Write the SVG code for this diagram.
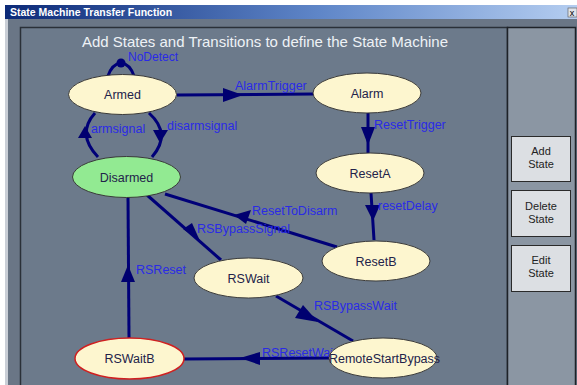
<svg xmlns="http://www.w3.org/2000/svg" width="577" height="385" viewBox="0 0 577 385">
<defs>
<linearGradient id="tb" x1="0" y1="0" x2="1" y2="0">
<stop offset="0" stop-color="#0c2a78"/>
<stop offset="0.55" stop-color="#5f86c8"/>
<stop offset="1" stop-color="#b4cdf0"/>
</linearGradient>
</defs>
<style>
.st{fill:#fdf6cf;stroke:#3a3a3a;stroke-width:1}
.lbl{font-family:"Liberation Sans",Arial,sans-serif;font-size:12.5px;fill:#22224a;text-anchor:middle}
.el{font-family:"Liberation Sans",Arial,sans-serif;font-size:12.5px;fill:#2a2ae6}
.ed{fill:none;stroke:#000078;stroke-width:3}
.ah{fill:#000070}
.btn{fill:#dcdfe3;stroke:#2a2a2a;stroke-width:1}
.bt{font-family:"Liberation Sans",Arial,sans-serif;font-size:11px;fill:#222;text-anchor:middle}
</style>
<rect x="0" y="0" width="577" height="385" fill="#ffffff"/>
<rect x="5" y="5" width="572" height="380" fill="#6a7686"/>
<rect x="5" y="19" width="3" height="366" fill="#c9ced6"/>
<rect x="5" y="5" width="572" height="14" fill="url(#tb)"/>
<text x="10" y="16" font-family="Liberation Sans,Arial,sans-serif" font-size="10.5" font-weight="bold" fill="#ffffff">State Machine Transfer Function</text>
<rect x="568" y="8" width="9" height="9" fill="#dfe3ea" stroke="#555" stroke-width="0.6"/>
<text x="572" y="15.5" font-family="Liberation Sans,Arial,sans-serif" font-size="9" fill="#000" text-anchor="middle">x</text>
<rect x="20.5" y="27.5" width="487" height="360" fill="#6c7a8b" stroke="#2a3038" stroke-width="1.5"/>
<rect x="507.5" y="27.5" width="68" height="360" fill="#8b96a3" stroke="#1e2228" stroke-width="1.5"/>
<text x="265" y="47" font-family="Liberation Sans,Arial,sans-serif" font-size="15" fill="#eef2f6" text-anchor="middle">Add States and Transitions to define the State Machine</text>
<g id="btn-add"><rect class="btn" x="511.5" y="136.5" width="59" height="45"/><text class="bt" x="541" y="155">Add</text><text class="bt" x="541" y="168">State</text></g>
<g id="btn-delete"><rect class="btn" x="511.5" y="190.5" width="59" height="46"/><text class="bt" x="541" y="210">Delete</text><text class="bt" x="541" y="223">State</text></g>
<g id="btn-edit"><rect class="btn" x="511.5" y="245.5" width="59" height="46"/><text class="bt" x="541" y="264">Edit</text><text class="bt" x="541" y="277">State</text></g>
<g id="connectors">
<path class="ed" d="M108,76 Q112,64 121,63 Q130,64 134,76" stroke="#1414d8" stroke-width="2.5"/>
<circle cx="121" cy="63" r="4.5" fill="#000078"/>
<path class="ed" d="M177,95 L313,94"/>
<path class="ah" d="M223,88 L243,95 L223,102 Z"/>
<path class="ed" d="M368,113 L368,153"/>
<path class="ah" d="M361,127 L368,145 L375,127 Z"/>
<path class="ed" d="M371,193 L374,240"/>
<path class="ah" d="M365,205 L373,221 L380,205 Z"/>
<path class="ed" d="M337,247 L165,194"/>
<path class="ah" d="M251,210 L234,215 L246,224 Z"/>
<path class="ed" d="M147,195 L221,260"/>
<path class="ah" d="M183,229 L200,241 L192,223 Z"/>
<path class="ed" d="M276,296 L353,341"/>
<path class="ah" d="M303,305 L318,322 L295,318 Z"/>
<path class="ed" d="M330,358 L184,359"/>
<path class="ah" d="M260,352 L240,358 L260,365 Z"/>
<path class="ed" d="M129,338 L128,197"/>
<path class="ah" d="M121,282 L128,265 L135,282 Z"/>
<path class="ed" d="M98,157 Q76,134 95,113"/>
<path class="ah" d="M78,138 L85,126 L92,138 Z"/>
<path class="ed" d="M149,113 Q172,134 152,157"/>
<path class="ah" d="M153,130 L168,130 L160,143 Z"/>
<text class="el" x="128" y="61" style="font-size:12px">NoDetect</text>
<text class="el" x="235" y="90">AlarmTrigger</text>
<text class="el" x="374" y="129">ResetTrigger</text>
<text class="el" x="378" y="210">resetDelay</text>
<text class="el" x="252" y="215">ResetToDisarm</text>
<text class="el" x="197" y="233">RSBypassSignal</text>
<text class="el" x="314" y="310">RSBypassWait</text>
<text class="el" x="262" y="357">RSResetWait</text>
<text class="el" x="136" y="274">RSReset</text>
<text class="el" x="91" y="133">armsignal</text>
<text class="el" x="167" y="130">disarmsignal</text>
</g>
<g id="armed"><ellipse class="st" cx="122.5" cy="94.5" rx="54" ry="20"/><text class="lbl" x="122.5" y="99">Armed</text></g>
<g id="disarmed"><ellipse class="st" cx="126.5" cy="177" rx="54" ry="20.5" style="fill:#92ea92"/><text class="lbl" x="126.5" y="181.5">Disarmed</text></g>
<g id="alarm"><ellipse class="st" cx="367" cy="93" rx="54" ry="20"/><text class="lbl" x="367" y="97.5">Alarm</text></g>
<g id="resetA"><ellipse class="st" cx="370" cy="173" rx="54" ry="20"/><text class="lbl" x="370" y="177.5">ResetA</text></g>
<g id="resetB"><ellipse class="st" cx="376" cy="261" rx="54" ry="20"/><text class="lbl" x="376" y="265.5">ResetB</text></g>
<g id="rswait"><ellipse class="st" cx="248.5" cy="278" rx="54.5" ry="20"/><text class="lbl" x="248.5" y="282.5">RSWait</text></g>
<g id="remoteStartBypass"><ellipse class="st" cx="383" cy="358" rx="54" ry="20"/><text class="lbl" x="384.5" y="362.5">RemoteStartBypass</text></g>
<g id="rswaitB"><ellipse class="st" cx="129.5" cy="358.5" rx="54.5" ry="20.5" style="stroke:#d02020;stroke-width:1.5"/><text class="lbl" x="129.5" y="363">RSWaitB</text></g>
</svg>
